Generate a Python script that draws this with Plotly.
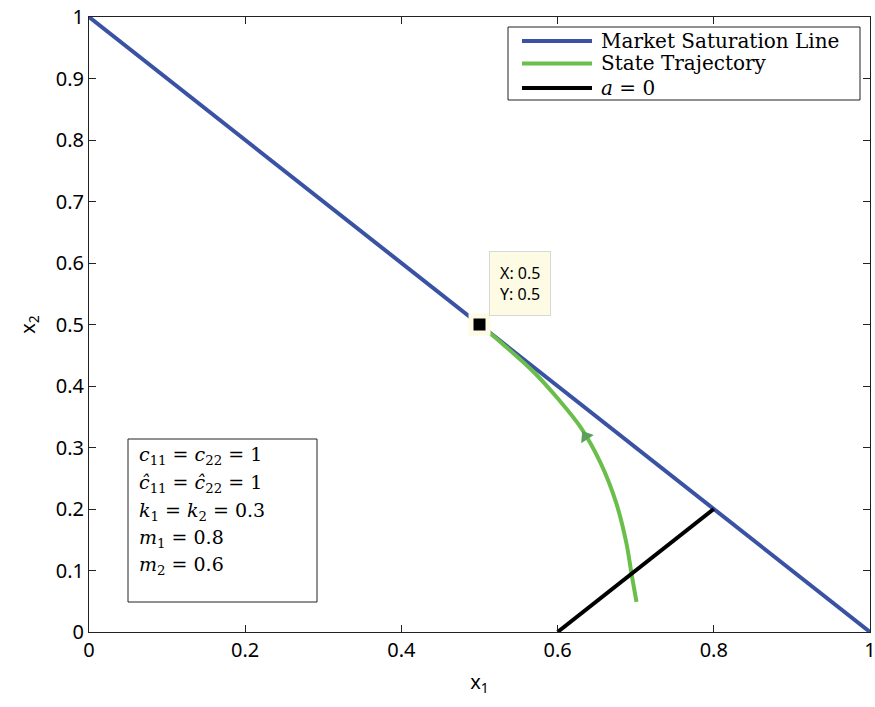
import plotly.graph_objects as go

# Market saturation line x1 + x2 = 1
sat_x = [0.0, 1.0]
sat_y = [1.0, 0.0]

# State trajectory (x1, x2)
traj_x = [0.500, 0.530, 0.570, 0.600, 0.630, 0.655, 0.675, 0.688, 0.695, 0.701]
traj_y = [0.500, 0.468, 0.422, 0.380, 0.332, 0.275, 0.210, 0.145, 0.092, 0.049]

# a = 0 switching line
a0_x = [0.6, 0.8]
a0_y = [0.0, 0.2]

# Direction arrow on trajectory
arrow_x = [0.636]
arrow_y = [0.318]

# Equilibrium point (data tip)
eq_x = [0.5]
eq_y = [0.5]

ticks = [0, 0.1, 0.2, 0.3, 0.4, 0.5, 0.6, 0.7, 0.8, 0.9, 1]
xticks = [0, 0.2, 0.4, 0.6, 0.8, 1]

series_names = ["Market Saturation Line", "State Trajectory", "<i>a</i> = 0"]
series_colors = ["#3a52a3", "#6abf4b", "#000000"]

params = [
    "<i>c</i><sub>11</sub> = <i>c</i><sub>22</sub> = 1",
    "<i>ĉ</i><sub>11</sub> = <i>ĉ</i><sub>22</sub> = 1",
    "<i>k</i><sub>1</sub> = <i>k</i><sub>2</sub> = 0.3",
    "<i>m</i><sub>1</sub> = 0.8",
    "<i>m</i><sub>2</sub> = 0.6",
]

# plot-area geometry in pixels (for paper-coordinate decorations)
L, R, T, B = 89, 870, 17, 632
W, H = R - L, B - T


def px(xp):
    return (xp - L) / W


def py(yp):
    return (B - yp) / H


SERIF = "DejaVu Serif"

fig = go.Figure()
fig.add_trace(go.Scatter(x=sat_x, y=sat_y, mode="lines", name=series_names[0],
                         line=dict(color=series_colors[0], width=4)))
fig.add_trace(go.Scatter(x=traj_x, y=traj_y, mode="lines", name=series_names[1],
                         line=dict(color=series_colors[1], width=4, shape="spline", smoothing=1.0)))
fig.add_trace(go.Scatter(x=a0_x, y=a0_y, mode="lines", name=series_names[2],
                         line=dict(color=series_colors[2], width=4)))
fig.add_trace(go.Scatter(x=arrow_x, y=arrow_y, mode="markers",
                         marker=dict(symbol="triangle-up", size=13, angle=-33,
                                     color="#5aa05a", line=dict(width=0))))
# data tip marker: halo + black square
fig.add_trace(go.Scatter(x=eq_x, y=eq_y, mode="markers",
                         marker=dict(symbol="square", size=22, color="#fdfbe3",
                                     line=dict(width=0))))
fig.add_trace(go.Scatter(x=eq_x, y=eq_y, mode="markers",
                         marker=dict(symbol="square", size=12, color="black",
                                     line=dict(width=0))))

tickfont = dict(family="Noto Sans", size=20, color="black")
axis_common = dict(showline=True, linecolor="#222", linewidth=1, mirror="ticks",
                   ticks="inside", ticklen=7, tickcolor="#222", showgrid=False,
                   zeroline=False, tickfont=tickfont, automargin=False,
                   ticklabeloverflow="allow")

fig.update_xaxes(range=[0, 1], tickvals=xticks, ticktext=[f"{v:g}" for v in xticks],
                 title=dict(text="x<sub>1</sub>",
                            font=dict(family="Noto Sans", size=20, color="black"),
                            standoff=12),
                 **axis_common)
fig.update_yaxes(range=[0, 1], tickvals=ticks, ticktext=[f"{v:g}" for v in ticks],
                 title=dict(text="x<sub>2</sub>",
                            font=dict(family="Noto Sans", size=20, color="black"),
                            standoff=14),
                 **axis_common)

# legend box
fig.add_shape(type="rect", xref="paper", yref="paper",
              x0=px(508), x1=px(860), y0=py(100), y1=py(27),
              line=dict(color="#222", width=1), fillcolor="white", layer="above")
for name, color, yc in zip(series_names, series_colors, [41, 63.5, 88]):
    fig.add_shape(type="line", xref="paper", yref="paper",
                  x0=px(522), x1=px(592), y0=py(yc), y1=py(yc),
                  line=dict(color=color, width=4), layer="above")
    fig.add_annotation(xref="paper", yref="paper", x=px(599), y=py(yc),
                       xanchor="left", yanchor="middle", showarrow=False, text=name,
                       font=dict(family=SERIF, size=20, color="black"))

# parameter box
fig.add_shape(type="rect", xref="paper", yref="paper",
              x0=px(128), x1=px(317), y0=py(602), y1=py(439),
              line=dict(color="#222", width=1), fillcolor="white", layer="above")
for text, yc in zip(params, [455, 483, 511, 538, 565]):
    fig.add_annotation(xref="paper", yref="paper", x=px(137), y=py(yc),
                       xanchor="left", yanchor="middle", align="left", showarrow=False,
                       text=text, font=dict(family=SERIF, size=19, color="black"))

# data tip label
fig.add_annotation(x=0.512, y=0.620, xref="x", yref="y", xanchor="left", yanchor="top",
                   align="left", showarrow=False, text="X: 0.5<br>Y: 0.5",
                   font=dict(family="Noto Sans", size=16, color="black"),
                   bgcolor="#fdfbe3", bordercolor="#d8d8d8", borderwidth=1, borderpad=10)

fig.update_layout(
    width=875, height=707,
    margin=dict(l=L, r=875 - R, t=T, b=707 - B),
    paper_bgcolor="white", plot_bgcolor="white",
    showlegend=False,
)

fig.write_html("out.html")
